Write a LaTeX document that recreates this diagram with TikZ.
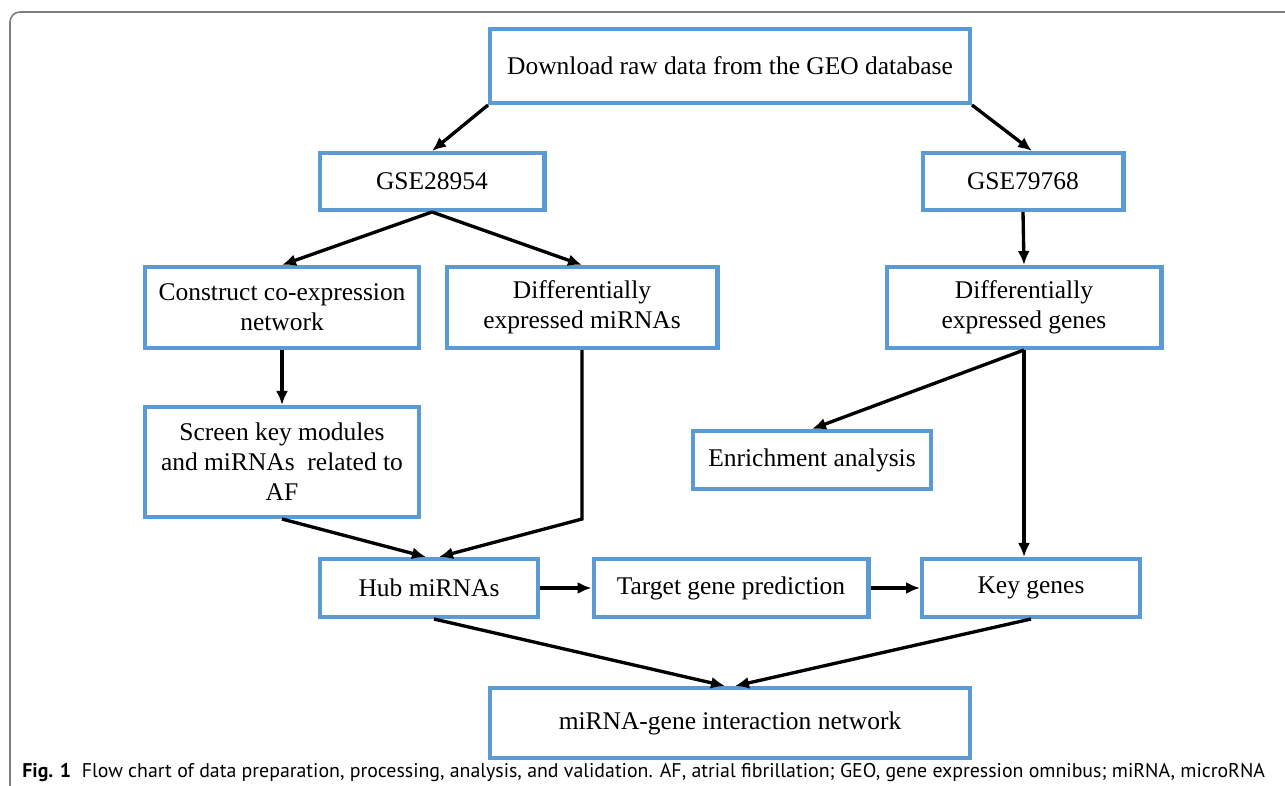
\documentclass[tikz,border=0pt]{standalone}
\usepackage{fontspec}
\setmainfont{Liberation Serif}
\newfontfamily\capfont{PT Sans}
\usetikzlibrary{arrows.meta}

\definecolor{boxblue}{RGB}{91,155,213}
\definecolor{framegray}{RGB}{125,125,125}

\begin{document}
\begin{tikzpicture}[x=0.02cm, y=-0.02cm, >={Latex[length=2.8mm,width=2.4mm]},
    flowbox/.style={draw=boxblue, line width=2.3pt, rectangle, align=center,
        font=\fontsize{14.5}{17}\selectfont},
    flow/.style={->, line width=1.9pt}]
    \useasboundingbox (0,0) rectangle (1285,786);

    % Figure frame (open at right and bottom)
    \draw[framegray, line width=0.9pt, rounded corners=0.2cm] (10,786) |- (1285,12);

    % Top level
    \node[flowbox, minimum width=9.6cm, minimum height=1.48cm] (download) at (730,66) {Download raw data from the GEO database};

    % Data sets
    \node[flowbox, minimum width=4.5cm, minimum height=1.14cm] (gseA) at (432,181.5) {GSE28954};
    \node[flowbox, minimum width=4.02cm, minimum height=1.14cm] (gseB) at (1023,181.5) {GSE79768};

    % Second row
    \node[flowbox, minimum width=5.5cm, minimum height=1.62cm] (coexp) at (282,307.5) {Construct co-expression\\network};
    \node[flowbox, minimum width=5.42cm, minimum height=1.62cm] (demir) at (582,307.5) {Differentially\\expressed miRNAs};
    \node[flowbox, minimum width=5.5cm, minimum height=1.62cm] (degene) at (1024,307.5) {Differentially\\expressed genes};

    % Third row
    \node[flowbox, minimum width=5.5cm, minimum height=2.2cm] (screen) at (282,462) {Screen key modules\\and miRNAs\ \ related to\\AF};
    \node[flowbox, minimum width=4.76cm, minimum height=1.16cm] (enrich) at (812,460) {Enrichment analysis};

    % Fourth row
    \node[flowbox, minimum width=4.36cm, minimum height=1.16cm] (hub) at (429,588) {Hub miRNAs};
    \node[flowbox, minimum width=5.5cm, minimum height=1.16cm] (target) at (731,588) {Target gene prediction};
    \node[flowbox, minimum width=4.36cm, minimum height=1.16cm] (keygene) at (1031,588) {Key genes};

    % Result
    \node[flowbox, minimum width=9.6cm, minimum height=1.4cm] (network) at (730,723) {miRNA-gene interaction network};

    % Arrows
    \draw[flow] (download.south west) -- (gseA.north);
    \draw[flow] (download.south east) -- ([xshift=0.18cm]gseB.north);
    \draw[flow] (gseA.south) -- (coexp.north);
    \draw[flow] (gseA.south) -- (demir.north);
    \draw[flow] (gseB.south) -- (degene.north);
    \draw[flow] (coexp.south) -- (screen.north);
    \draw[flow] (degene.south) -- (enrich.north);
    \draw[flow] (degene.south) -- (degene.south |- keygene.north);
    \draw[flow] (screen.south) -- ([xshift=-0.06cm]hub.north);
    \draw[flow] (demir.south) -- (demir.south |- screen.south) -- ([xshift=0.2cm]hub.north);
    \draw[flow] (hub.east) -- (target.west);
    \draw[flow] (target.east) -- (keygene.west);
    \draw[flow] ([xshift=0.1cm]hub.south) -- ([xshift=-0.1cm]network.north);
    \draw[flow] (keygene.south) -- ([xshift=0.1cm]network.north);

    % Caption
    \node[anchor=base west, inner sep=0pt, font=\capfont\fontsize{11.3}{13}\selectfont] (caption) at (22,778)
        {\textbf{Fig. 1}\ \ Flow chart of data preparation, processing, analysis, and validation. AF, atrial fibrillation; GEO, gene expression omnibus; miRNA, microRNA};
\end{tikzpicture}
\end{document}
